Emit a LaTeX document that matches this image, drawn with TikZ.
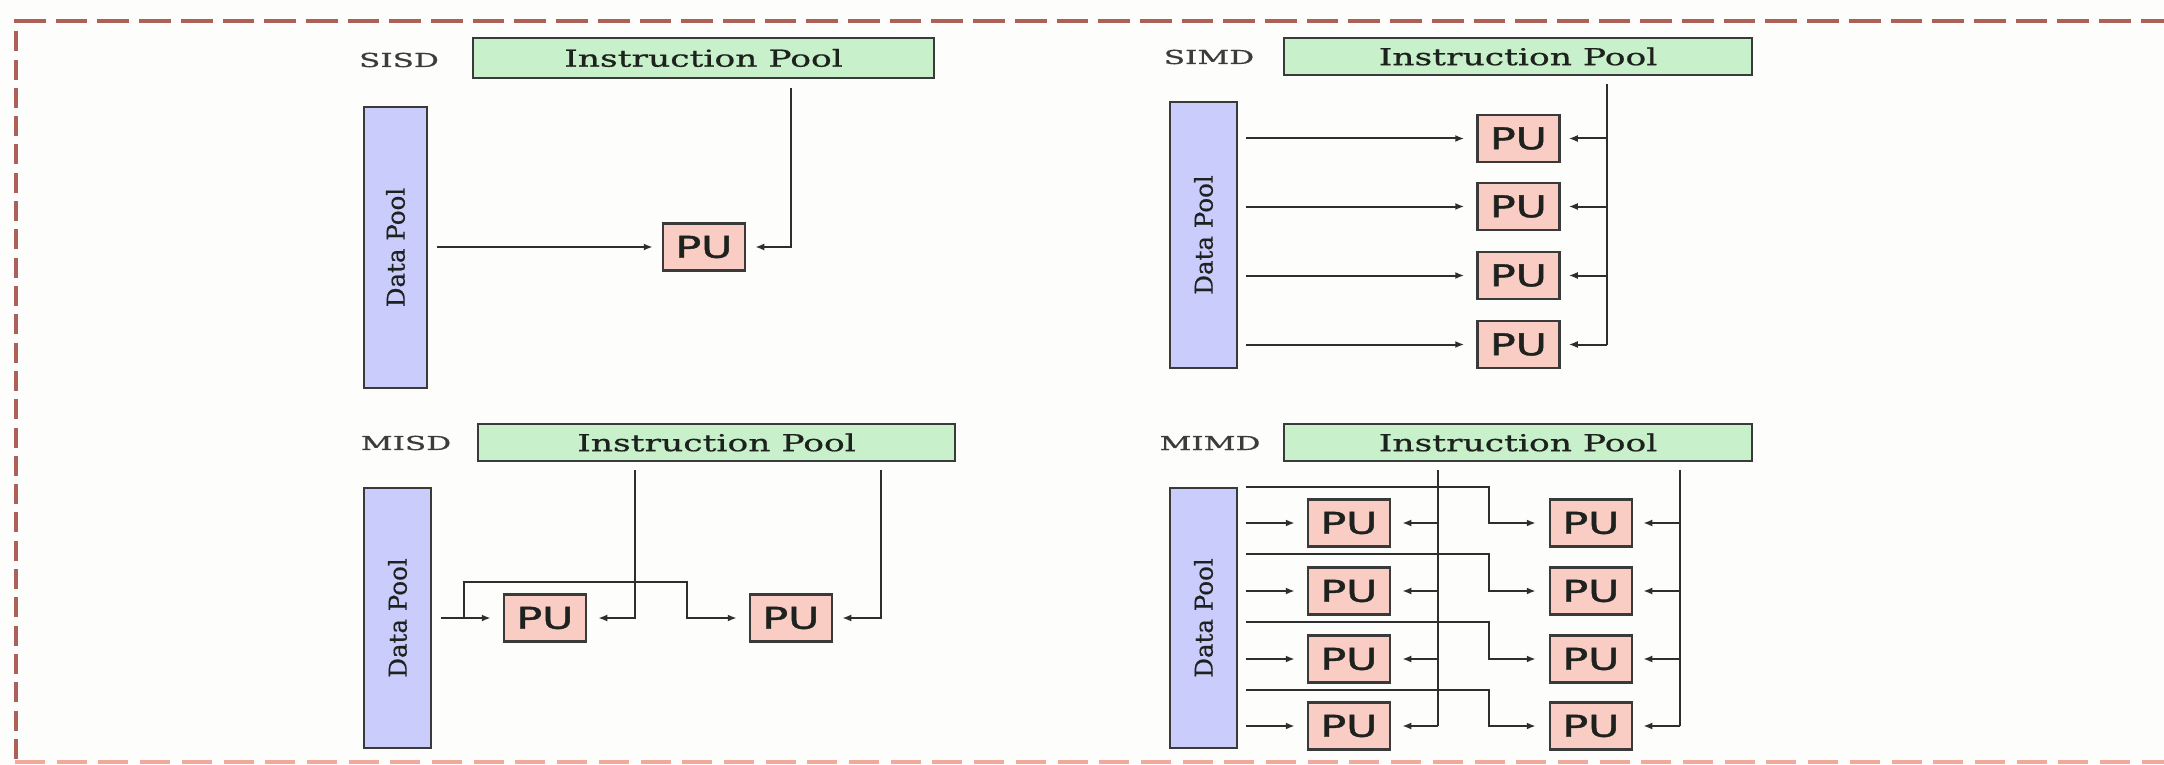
\documentclass[tikz,border=0pt]{standalone}
\usepackage{fontspec}
\usepackage{graphicx}
\setmainfont{DejaVu Serif}[FakeBold=0.6]
\newfontfamily\pufont{DejaVu Sans}[FakeBold=1.2]
\usetikzlibrary{arrows.meta,calc}
\definecolor{bgc}{RGB}{253,253,251}
\definecolor{bdr}{RGB}{58,58,58}
\definecolor{ipfill}{RGB}{200,240,202}
\definecolor{dpfill}{RGB}{202,204,252}
\definecolor{pufill}{RGB}{249,204,196}
\definecolor{lnc}{RGB}{46,46,46}
\definecolor{txtc}{RGB}{30,34,30}
\definecolor{lblc}{RGB}{60,60,60}
\definecolor{bordc}{RGB}{172,96,88}
\definecolor{bordb}{RGB}{240,170,155}
\newcommand\iptxt[1]{\scalebox{1.48}[1]{#1}}
\newcommand\lbltxt[1]{\scalebox{1.62}[1]{#1}}
\newcommand\putxt{\scalebox{1.42}[1]{PU}}
\tikzset{
  ipbox/.style={draw=bdr, fill=ipfill, line width=2.5pt, inner sep=0pt,
    font=\fontsize{23.3}{28}\selectfont, text=txtc},
  dpbox/.style={draw=bdr, fill=dpfill, line width=2.5pt, inner sep=0pt},
  dptext/.style={rotate=90, inner sep=0pt, font=\fontsize{24.5}{28}\selectfont, text=txtc},
  pubox/.style={draw=bdr, fill=pufill, line width=2.5pt, inner sep=0pt,
    minimum width=82pt, minimum height=47pt, font=\pufont\fontsize{30}{36}\selectfont, text=txtc},
  lbl/.style={inner sep=0pt, font=\fontsize{19.2}{24}\selectfont, text=lblc},
  ln/.style={line width=2pt, draw=lnc},
  arr/.style={ln, -{Latex[length=9pt,width=7pt]}},
  bordline/.style={line width=3.6pt, draw=bordc},
}
\begin{document}
\begin{tikzpicture}[x=1pt,y=-1pt]
\useasboundingbox (0,0) rectangle (2164,765);
\fill[bgc] (0,0) rectangle (2164,765);
% frame
\draw[bordline, dash pattern=on 31.7pt off 10pt] (14,21) -- (2170,21);
\draw[bordline, dash pattern=on 20pt off 8.3pt, dash phase=16pt] (16,19) -- (16,760);
\draw[line width=4pt, draw=bordb, dash pattern=on 30pt off 11.7pt] (15,762) -- (2170,762);

% ---------- SISD ----------
\node[lbl] (l1) at (399,60) {\lbltxt{SISD}};
\node[ipbox, minimum width=461pt, minimum height=40pt] (ip1) at (703.5,58) {\iptxt{Instruction Pool}};
\node[dpbox, minimum width=63pt, minimum height=281pt] (dp1) at (395.5,247.5) {};
\node[dptext] (dt1) at (dp1) {Data Pool};
\node[pubox] (pu1) at (704,247) {\putxt};
\coordinate (s1) at (791,0);
\draw[arr, shorten <=9pt, shorten >=9pt] (dp1.east |- pu1) -- (pu1.west);
\draw[arr, shorten <=9pt, shorten >=9pt] (s1 |- ip1.south) |- (pu1.east);

% ---------- SIMD ----------
\node[lbl] (l2) at (1209,57) {\lbltxt{SIMD}};
\node[ipbox, minimum width=468pt, minimum height=37pt] (ip2) at (1518,56.5) {\iptxt{Instruction Pool}};
\node[dpbox, minimum width=67pt, minimum height=266pt] (dp2) at (1203.5,235) {};
\node[dptext] (dt2) at (dp2) {Data Pool};
\node[pubox] (pu2a) at (1518.5,138.5) {\putxt};
\node[pubox] (pu2b) at (1518.5,206.5) {\putxt};
\node[pubox] (pu2c) at (1518.5,275.5) {\putxt};
\node[pubox] (pu2d) at (1518.5,344.5) {\putxt};
\coordinate (s2) at (1607,0);
\draw[ln, shorten <=8pt] (s2 |- ip2.south) -- (s2 |- pu2d);
\foreach \p in {pu2a,pu2b,pu2c,pu2d}{
  \draw[arr, shorten >=8pt] (s2 |- \p) -- (\p.east);
  \draw[arr, shorten <=8pt, shorten >=12pt] (dp2.east |- \p) -- (\p.west);
}

% ---------- MISD ----------
\node[lbl] (l3) at (406,443) {\lbltxt{MISD}};
\node[ipbox, minimum width=477pt, minimum height=37pt] (ip3) at (716.5,442.5) {\iptxt{Instruction Pool}};
\node[dpbox, minimum width=67pt, minimum height=260pt] (dp3) at (397.5,618) {};
\node[dptext] (dt3) at (dp3) {Data Pool};
\node[pubox] (pu3a) at (545,618) {\putxt};
\node[pubox] (pu3b) at (791,618) {\putxt};
\coordinate (m1) at (635,0);
\coordinate (m2) at (881,0);
\coordinate (b1) at (464,582);
\coordinate (b2) at (687,582);
\draw[arr, shorten <=8pt, shorten >=11pt] (m1 |- ip3.south) |- (pu3a.east);
\draw[arr, shorten <=8pt, shorten >=9pt] (m2 |- ip3.south) |- (pu3b.east);
\draw[arr, shorten <=9pt, shorten >=12pt] (dp3.east |- pu3a) -- (pu3a.west);
\draw[arr, shorten >=12pt] (b1 |- pu3a) -- (b1) -- (b2) -- (b2 |- pu3b) -- (pu3b.west);

% ---------- MIMD ----------
\node[lbl] (l4) at (1210,443) {\lbltxt{MIMD}};
\node[ipbox, minimum width=468pt, minimum height=37pt] (ip4) at (1518,442.5) {\iptxt{Instruction Pool}};
\node[dpbox, minimum width=67pt, minimum height=260pt] (dp4) at (1203.5,618) {};
\node[dptext] (dt4) at (dp4) {Data Pool};
\node[pubox] (p4a1) at (1349,523) {\putxt};
\node[pubox] (p4b1) at (1349,591) {\putxt};
\node[pubox] (p4c1) at (1349,659) {\putxt};
\node[pubox] (p4d1) at (1349,726) {\putxt};
\node[pubox] (p4a2) at (1591,523) {\putxt};
\node[pubox] (p4b2) at (1591,591) {\putxt};
\node[pubox] (p4c2) at (1591,659) {\putxt};
\node[pubox] (p4d2) at (1591,726) {\putxt};
\coordinate (n1) at (1438,0);
\coordinate (n2) at (1680,0);
\coordinate (ja) at (1489,487);
\coordinate (jb) at (1489,554);
\coordinate (jc) at (1489,622);
\coordinate (jd) at (1489,690);
\draw[ln, shorten <=8pt] (n1 |- ip4.south) -- (n1 |- p4d1);
\draw[ln, shorten <=8pt] (n2 |- ip4.south) -- (n2 |- p4d2);
\foreach \r/\j in {a/ja,b/jb,c/jc,d/jd}{
  \draw[arr, shorten <=8pt, shorten >=12pt] (dp4.east |- p4\r1) -- (p4\r1.west);
  \draw[arr, shorten <=8pt, shorten >=13pt] (dp4.east |- \j) -- (\j) |- (p4\r2.west);
  \draw[arr, shorten >=11pt] (n1 |- p4\r1) -- (p4\r1.east);
  \draw[arr, shorten >=10pt] (n2 |- p4\r2) -- (p4\r2.east);
}
\end{tikzpicture}
\end{document}
